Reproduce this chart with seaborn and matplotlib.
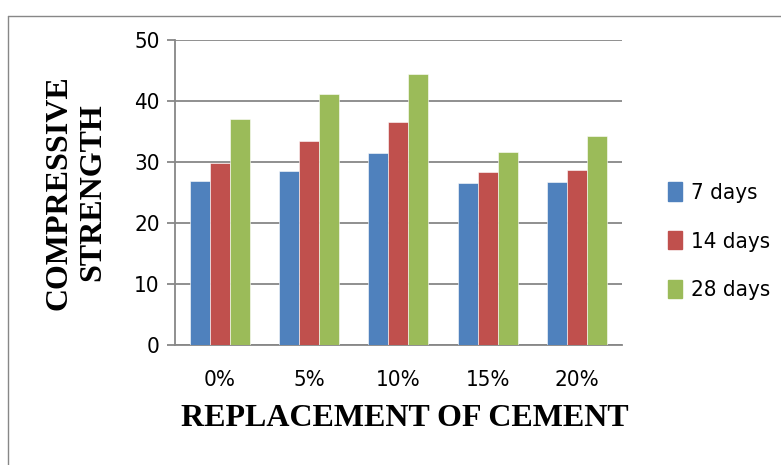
import pandas as pd
import matplotlib
matplotlib.use("Agg")
import matplotlib.pyplot as plt
from matplotlib.lines import Line2D
import seaborn as sns

# data
replacement = ["0%", "5%", "10%", "15%", "20%"]
days_7 = [26.9, 28.6, 31.4, 26.5, 26.8]
days_14 = [29.9, 33.4, 36.5, 28.3, 28.7]
days_28 = [37.0, 41.2, 44.5, 31.7, 34.3]
series = ["7 days", "14 days", "28 days"]
colors = ["#4F81BD", "#C0504D", "#9BBB59"]

df = pd.DataFrame({
    "replacement": replacement * 3,
    "strength": days_7 + days_14 + days_28,
    "age": [s for s in series for _ in replacement],
})

sns.set_style("white")
plt.rcParams["text.color"] = "black"
plt.rcParams["xtick.color"] = "black"
plt.rcParams["ytick.color"] = "black"
plt.rcParams["axes.labelcolor"] = "black"

narrow = ["Liberation Sans Narrow", "DejaVu Sans"]
serif = ["Liberation Serif", "DejaVu Serif"]
grid_col = "#878787"

fig = plt.figure(figsize=(7.81, 4.65), dpi=100)
ax = fig.add_axes([0.224, 0.258, 0.572, 0.656])

sns.barplot(data=df, x="replacement", y="strength", hue="age",
            palette=colors, saturation=1, width=0.67, ax=ax,
            edgecolor="#ffffff", linewidth=0.4, legend=False, zorder=3)

ax.set_ylim(0, 50)
ax.set_xlim(-0.5, 4.5)
ax.set_yticks(range(0, 51, 10))
ax.yaxis.grid(True, color=grid_col, linewidth=1.3, zorder=0)
ax.set_axisbelow(True)

for s in ["top", "right"]:
    ax.spines[s].set_visible(False)
for s in ["left", "bottom"]:
    ax.spines[s].set_color(grid_col)
    ax.spines[s].set_linewidth(1.3)

# category boundary ticks on x, outward ticks on y
ax.set_xticks([i - 0.5 for i in range(6)], minor=True)
ax.tick_params(axis="x", which="major", length=0, pad=18)
ax.tick_params(axis="x", which="minor", length=6, width=1.3, color=grid_col, direction="out")
ax.tick_params(axis="y", length=6, width=1.3, color=grid_col, direction="out", pad=5, left=True)

for lab in ax.get_xticklabels() + ax.get_yticklabels():
    lab.set_family(narrow)
    lab.set_stretch("condensed")
    lab.set_fontsize(16)

ax.set_xlabel("REPLACEMENT OF CEMENT", family=serif, fontweight="bold",
              fontsize=23, labelpad=10)
ax.xaxis.label.set_x(0.515)
ax.set_ylabel("COMPRESSIVE\nSTRENGTH", family=serif, fontweight="bold",
              fontsize=23, labelpad=19, linespacing=1.25)

handles = [plt.Rectangle((0, 0), 1, 1, color=c) for c in colors]
leg = ax.legend(handles, series, loc="center left", bbox_to_anchor=(1.06, 0.34),
                frameon=False, handlelength=0.6, handleheight=0.9,
                handletextpad=0.4, labelspacing=1.25,
                prop={"family": narrow, "size": 16, "stretch": "condensed"})

# outer chart border (only top and left visible in the reference)
fig.add_artist(Line2D([8 / 781, 1], [1 - 16 / 465, 1 - 16 / 465],
                      transform=fig.transFigure, color=grid_col, linewidth=1))
fig.add_artist(Line2D([8 / 781, 8 / 781], [0, 1 - 16 / 465],
                      transform=fig.transFigure, color=grid_col, linewidth=1))

fig.savefig("out.png", dpi=100)
plt.close(fig)
